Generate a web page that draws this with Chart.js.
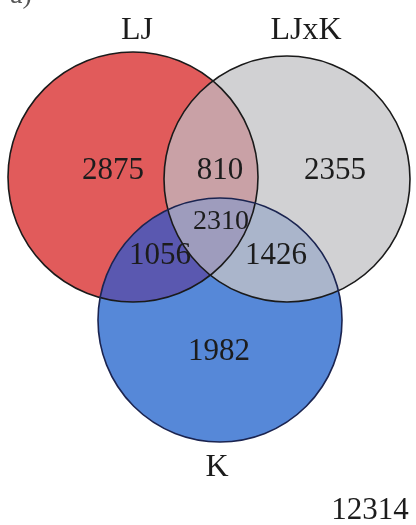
<!DOCTYPE html>
<html>
<head>
<meta charset="utf-8">
<script src="https://cdn.jsdelivr.net/npm/chart.js@4/dist/chart.umd.min.js"></script>
<style>
html,body{margin:0;padding:0;background:#fff;}
#wrap{width:416px;height:525px;}
</style>
</head>
<body>
<div id="wrap"><canvas id="c" width="416" height="525"></canvas></div>
<script>
// ---- data ----
const setNames = ["LJ", "LJxK", "K"];
const regionNames = ["LJ only", "LJxK only", "K only", "LJ∩LJxK", "LJ∩K", "LJxK∩K", "all three"];
const regionCounts = [2875, 2355, 1982, 810, 1056, 1426, 2310];
const totalLabel = "12314";
const panelLabel = "a)";

// ---- layout (plot units = pixels of the 416x525 frame) ----
const circleCenters = [[133, 177], [287, 179], [220, 320]];
const circleRadii = [125, 123, 122];
const setLabelPos = [[137, 31], [306, 31], [217, 468]];
const regionLabelPos = [[113, 171], [335, 171], [219, 352], [220, 171], [160, 256], [276, 256], [221, 222]];
const regionFont = [31, 31, 31, 31, 31, 31, 28];
const circleColors = ["#e15b5b", "#d1d1d3", "#5688d8"];
const pairColors = {"01": "#c9a1a6", "02": "#5a58b0", "12": "#aab5cb"};
const tripleColor = "#9e9cbd";
const strokeColors = ["#1a1a1a", "#1a1a1a", "#1b2450"];

const vennPlugin = {
  id: "venn",
  afterDatasetsDraw(chart) {
    const ctx = chart.ctx;
    const els = chart.getDatasetMeta(0).data;
    const circ = els.map(e => ({x: e.x, y: e.y, r: e.options.radius}));
    const clipTo = (idx) => {
      idx.forEach(i => {
        ctx.beginPath();
        ctx.arc(circ[i].x, circ[i].y, circ[i].r, 0, Math.PI * 2);
        ctx.clip();
      });
    };
    const fillRegion = (idx, col) => {
      ctx.save();
      clipTo(idx);
      ctx.fillStyle = col;
      ctx.fillRect(0, 0, chart.width, chart.height);
      ctx.restore();
    };
    fillRegion([0, 1], pairColors["01"]);
    fillRegion([0, 2], pairColors["02"]);
    fillRegion([1, 2], pairColors["12"]);
    fillRegion([0, 1, 2], tripleColor);
    ctx.save();
    ctx.lineWidth = 1.6;
    circ.forEach((c, i) => {
      ctx.beginPath();
      ctx.arc(c.x, c.y, c.r, 0, Math.PI * 2);
      ctx.strokeStyle = strokeColors[i];
      ctx.stroke();
    });
    ctx.restore();

    const xs = chart.scales.x, ys = chart.scales.y;
    ctx.save();
    ctx.fillStyle = "#1c1c1c";
    ctx.textAlign = "center";
    ctx.textBaseline = "middle";
    ctx.font = "32px 'Liberation Serif', 'DejaVu Serif', serif";
    setNames.forEach((n, i) => {
      ctx.fillText(n, xs.getPixelForValue(setLabelPos[i][0]), ys.getPixelForValue(setLabelPos[i][1]));
    });
    regionCounts.forEach((v, i) => {
      ctx.font = regionFont[i] + "px 'Liberation Serif', 'DejaVu Serif', serif";
      ctx.fillText(String(v), xs.getPixelForValue(regionLabelPos[i][0]), ys.getPixelForValue(regionLabelPos[i][1]));
    });
    ctx.font = "31px 'Liberation Serif', 'DejaVu Serif', serif";
    ctx.fillText(totalLabel, xs.getPixelForValue(370), ys.getPixelForValue(511));
    ctx.textAlign = "left";
    ctx.font = "28px 'Liberation Serif', 'DejaVu Serif', serif";
    ctx.fillStyle = "#555";
    ctx.fillText(panelLabel, xs.getPixelForValue(10), ys.getPixelForValue(-4));
    ctx.restore();
  }
};

new Chart(document.getElementById("c"), {
  type: "bubble",
  data: {
    datasets: [{
      label: "sets",
      data: circleCenters.map((c, i) => ({x: c[0], y: c[1], r: circleRadii[i]})),
      backgroundColor: circleColors,
      borderWidth: 0,
      clip: false
    }]
  },
  options: {
    responsive: false,
    animation: false,
    events: [],
    layout: {padding: 0, autoPadding: false},
    plugins: {legend: {display: false}, tooltip: {enabled: false}},
    scales: {
      x: {type: "linear", min: 0, max: 416, display: false},
      y: {type: "linear", min: 0, max: 525, reverse: true, display: false}
    }
  },
  plugins: [vennPlugin]
});
</script>
</body>
</html>
